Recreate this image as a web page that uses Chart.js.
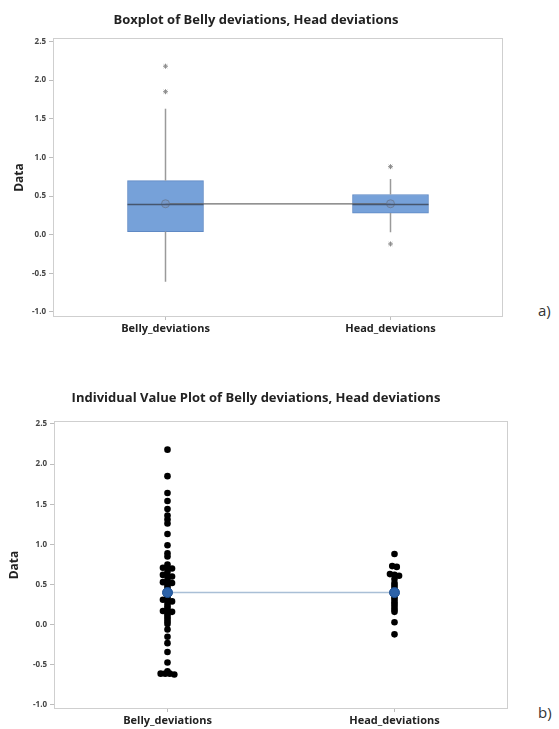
<!DOCTYPE html>
<html>
<head>
<meta charset="utf-8">
<script src="https://cdn.jsdelivr.net/npm/chart.js@4.4.1/dist/chart.umd.min.js"></script>
<style>
  body { margin: 0; background: #fff; width: 559px; height: 729px; position: relative; overflow: hidden; }
  canvas { position: absolute; left: 0; }
  #boxChart { top: 0; }
  #dotChart { top: 360px; }
  .tag { position: absolute; left: 538px; font-family: 'Open Sans', sans-serif; font-size: 15px; color: #333; }
</style>
</head>
<body>
<canvas id="boxChart" width="530" height="340"></canvas>
<canvas id="dotChart" width="530" height="369"></canvas>
<div class="tag" style="top:300px;">a)</div>
<div class="tag" style="top:702px;">b)</div>
<script>
// categories + axis ticks
const categories = ['Belly_deviations', 'Head_deviations'];
const yTickValues = [-1.0, -0.5, 0.0, 0.5, 1.0, 1.5, 2.0, 2.5];

// boxplot summary
const boxQ1 = [0.04, 0.28];
const boxMedian = [0.39, 0.39];
const boxQ3 = [0.70, 0.52];
const whiskerLow = [-0.61, 0.03];
const whiskerHigh = [1.63, 0.72];
const meanValues = [0.40, 0.40];
const outliersBelly = [2.18, 1.85];
const outliersHead = [0.88, -0.12];

// individual values
const bellyValues = [2.18, 1.85, 1.64, 1.54, 1.44, 1.36, 1.31, 1.26, 1.13, 0.99,
  0.89, 0.85, 0.75, 0.71, 0.71, 0.70, 0.66, 0.62, 0.61, 0.60,
  0.56, 0.53, 0.52, 0.52, 0.49, 0.46, 0.43, 0.40, 0.37, 0.34,
  0.31, 0.30, 0.29, 0.26, 0.23, 0.20, 0.17, 0.17, 0.16, 0.13,
  0.10, 0.07, 0.04, 0.01, -0.06, -0.15, -0.23, -0.34, -0.47, -0.58,
  -0.61, -0.61, -0.61, -0.62];
const headValues = [0.88, 0.73, 0.72, 0.63, 0.62, 0.61, 0.57, 0.52, 0.49, 0.46,
  0.43, 0.40, 0.37, 0.34, 0.31, 0.28, 0.25, 0.22, 0.19, 0.16, 0.03, -0.12];

Chart.defaults.font.family = "'Open Sans', 'Noto Sans', sans-serif";
Chart.defaults.color = '#333';

// light grey frame round the plot area (Minitab style)
const framePlugin = {
    id: 'frame',
    beforeDatasetsDraw: function(chart) {
        const a = chart.chartArea, ctx = chart.ctx;
        ctx.save();
        ctx.strokeStyle = '#cfcfcf';
        ctx.lineWidth = 1;
        ctx.strokeRect(a.left + 0.5, a.top + 0.5, a.right - a.left - 1, a.bottom - a.top - 1);
        ctx.restore();
    }
};

// median line across each box, using the bar element geometry
const medianPlugin = {
    id: 'median',
    afterDatasetsDraw: function(chart) {
        const meta = chart.getDatasetMeta(0);
        const ctx = chart.ctx;
        ctx.save();
        ctx.strokeStyle = '#46566e';
        ctx.lineWidth = 1.5;
        meta.data.forEach(function(bar, i) {
            const y = chart.scales.y.getPixelForValue(boxMedian[i]);
            ctx.beginPath();
            ctx.moveTo(bar.x - bar.width / 2, y);
            ctx.lineTo(bar.x + bar.width / 2, y);
            ctx.stroke();
        });
        ctx.restore();
    }
};

function yScale(minV, maxV, axisWidth) {
    return {
        type: 'linear',
        min: minV,
        max: maxV,
        afterBuildTicks: function(s) { s.ticks = yTickValues.map(v => ({ value: v })); },
        afterFit: function(s) { s.width = axisWidth; },
        ticks: {
            callback: v => Number(v).toFixed(1),
            font: { size: 8, weight: 'bold' },
            color: '#444',
            padding: 3
        },
        grid: { drawOnChartArea: false, tickLength: 4, color: '#bdbdbd' },
        border: { display: false },
        title: { display: true, text: 'Data', font: { size: 12, weight: 'bold' }, color: '#222', padding: { top: 3, bottom: 0 } }
    };
}

function xScale(axisHeight) {
    return {
        type: 'linear',
        min: -0.5,
        max: 1.5,
        offset: false,
        afterBuildTicks: function(s) { s.ticks = categories.map((c, i) => ({ value: i })); },
        afterFit: function(s) { s.height = axisHeight; },
        ticks: {
            callback: v => categories[v],
            font: { size: 11, weight: 'bold' },
            color: '#222',
            padding: 2,
            autoSkip: false,
            maxRotation: 0
        },
        grid: { drawOnChartArea: false, offset: false, tickLength: 3, color: '#bdbdbd' },
        border: { display: false }
    };
}

// ---- a) boxplot ----
var boxDatasets = [{
    type: 'bar',
    data: categories.map((c, i) => ({ x: i, y: [boxQ1[i], boxQ3[i]] })),
    backgroundColor: '#76a1d9',
    borderColor: '#5f89c4',
    borderWidth: 1,
    borderSkipped: false,
    barThickness: 76,
    order: 10
}];
categories.forEach(function(c, i) {
    boxDatasets.push({
        type: 'line',
        data: [{ x: i, y: boxQ3[i] }, { x: i, y: whiskerHigh[i] }],
        borderColor: '#9a9a9a', borderWidth: 1.5, pointRadius: 0, order: 9
    });
    boxDatasets.push({
        type: 'line',
        data: [{ x: i, y: boxQ1[i] }, { x: i, y: whiskerLow[i] }],
        borderColor: '#9a9a9a', borderWidth: 1.5, pointRadius: 0, order: 9
    });
});
boxDatasets.push({
    type: 'line',
    data: categories.map((c, i) => ({ x: i, y: meanValues[i] })),
    borderColor: '#6e6e6e', borderWidth: 1.2, pointRadius: 0, order: 3
});
boxDatasets.push({
    type: 'scatter',
    data: categories.map((c, i) => ({ x: i, y: meanValues[i] })),
    pointStyle: 'circle', pointRadius: 4,
    backgroundColor: 'rgba(120,150,195,0.7)', borderColor: '#6b7f9c', borderWidth: 1, order: 2
});
boxDatasets.push({
    type: 'scatter',
    data: outliersBelly.map(v => ({ x: 0, y: v })).concat(outliersHead.map(v => ({ x: 1, y: v }))),
    pointStyle: 'star', pointRadius: 2.5,
    borderColor: '#8d8d8d', backgroundColor: '#8d8d8d', borderWidth: 1, order: 1
});

new Chart(document.getElementById('boxChart'), {
    type: 'scatter',
    data: { datasets: boxDatasets },
    options: {
        responsive: false,
        animation: false,
        layout: { padding: { left: 9, right: 27, top: 0, bottom: 0 } },
        plugins: {
            legend: { display: false },
            tooltip: { enabled: false },
            title: {
                display: true,
                text: 'Boxplot of Belly deviations, Head deviations',
                font: { size: 13, weight: 'bold' },
                color: '#222',
                padding: { top: 12, bottom: 10.4 }
            }
        },
        scales: {
            x: xScale(23),
            y: yScale(-1.065, 2.545, 44)
        }
    },
    plugins: [framePlugin, medianPlugin]
});

// ---- b) individual value plot ----
// tied values sit side by side, like Minitab does
function stackDots(values, catIndex) {
    const sorted = values.slice().sort((a, b) => b - a);
    const groups = [];
    sorted.forEach(function(v) {
        const g = groups[groups.length - 1];
        if (g && g[0] - v <= 0.021) g.push(v); else groups.push([v]);
    });
    const pts = [];
    groups.forEach(g => g.forEach((v, k) => pts.push({ x: catIndex + (k - (g.length - 1) / 2) * 0.02, y: v })));
    return pts;
}

new Chart(document.getElementById('dotChart'), {
    type: 'scatter',
    data: {
        datasets: [
            {
                type: 'line',
                data: categories.map((c, i) => ({ x: i, y: meanValues[i] })),
                borderColor: '#a9bfd6', borderWidth: 1.5, pointRadius: 0, order: 5
            },
            {
                data: stackDots(bellyValues, 0),
                pointRadius: 3.3, backgroundColor: '#000', borderWidth: 0, order: 3
            },
            {
                data: stackDots(headValues, 1),
                pointRadius: 3.3, backgroundColor: '#000', borderWidth: 0, order: 3
            },
            {
                data: categories.map((c, i) => ({ x: i, y: meanValues[i] })),
                pointRadius: 5, backgroundColor: '#2c62a8', borderColor: '#1d4f91', borderWidth: 1, order: 1
            }
        ]
    },
    options: {
        responsive: false,
        animation: false,
        layout: { padding: { left: 4, right: 22, top: 0, bottom: 0 } },
        plugins: {
            legend: { display: false },
            tooltip: { enabled: false },
            title: {
                display: true,
                text: 'Individual Value Plot of Belly deviations, Head deviations',
                font: { size: 13, weight: 'bold' },
                color: '#222',
                padding: { top: 30.2, bottom: 15.2 }
            }
        },
        scales: {
            x: xScale(20),
            y: yScale(-1.05, 2.537, 50)
        }
    },
    plugins: [framePlugin]
});
</script>
</body>
</html>
